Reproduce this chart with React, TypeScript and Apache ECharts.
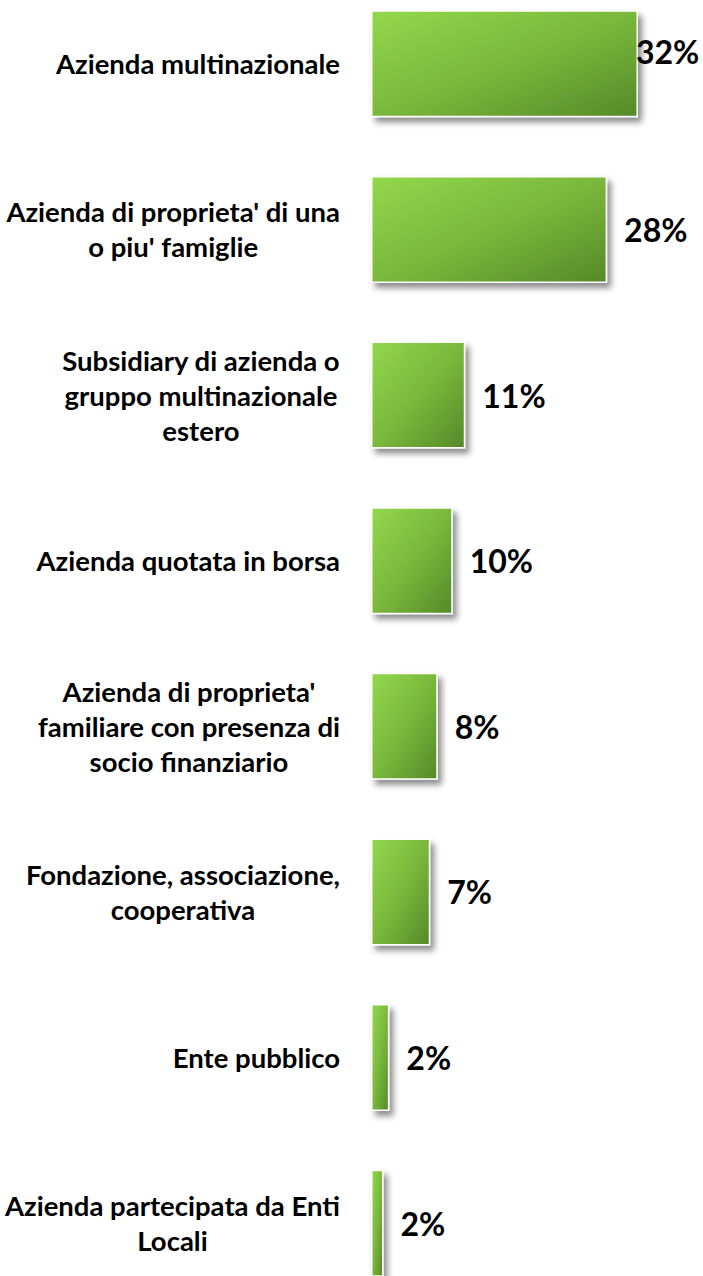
import React, { useEffect, useRef } from "react";
import * as echarts from "echarts";

const categories = [
  "Azienda multinazionale",
  "Azienda di proprieta' di una\no piu' famiglie",
  "Subsidiary di azienda o\ngruppo multinazionale\nestero",
  "Azienda quotata in borsa",
  "Azienda di proprieta'\nfamiliare con presenza di\nsocio finanziario",
  "Fondazione, associazione,\ncooperativa",
  "Ente pubblico",
  "Azienda partecipata da Enti\nLocali",
];
const values = [32.0, 28.3, 11.3, 9.8, 8.0, 7.1, 2.2, 1.5];
const valueLabels = ["32%", "28%", "11%", "10%", "8%", "7%", "2%", "2%"];

const catFont = "'Lato', sans-serif";
const valFont = "'Lato', sans-serif";

export default function App() {
  const ref = useRef<HTMLDivElement>(null);
  useEffect(() => {
    if (!ref.current) return;
    const chart = echarts.init(ref.current, null, { renderer: "svg" });
    const data = values.map((v, i) =>
      i === 0 ? { value: v, label: { offset: [-19, -12] } } : { value: v }
    );
    chart.setOption({
      animation: false,
      backgroundColor: "#ffffff",
      grid: {
        left: 371,
        top: -19,
        width: 317,
        height: 1325,
        containLabel: false,
        outerBoundsMode: "none",
      },
      xAxis: {
        type: "value",
        min: 0,
        max: 38,
        show: false,
      },
      yAxis: {
        type: "category",
        inverse: true,
        data: categories,
        axisLine: { show: false },
        axisTick: { show: false },
        axisLabel: {
          margin: 31,
          formatter: (v: string) =>
            v
              .split("\n")
              .map((l) => `{c|${l}}`)
              .join("\n"),
          rich: {
            c: {
              align: "center",
              fontFamily: catFont,
              fontSize: 27.5,
              fontWeight: "bold",
              color: "#000000",
              lineHeight: 35,
            },
          },
        },
      },
      series: [
        {
          type: "bar",
          data,
          barWidth: 107,
          itemStyle: {
            color: new echarts.graphic.LinearGradient(0, 0, 1, 1, [
              { offset: 0, color: "#92d84c" },
              { offset: 0.5, color: "#7ab83c" },
              { offset: 1, color: "#558a28" },
            ]),
            borderColor: "#ffffff",
            borderWidth: 1.5,
            shadowBlur: 6,
            shadowOffsetX: 4,
            shadowOffsetY: 5,
            shadowColor: "rgba(0,0,0,0.45)",
          },
          label: {
            show: true,
            position: "right",
            distance: 17,
            formatter: (p: any) => valueLabels[p.dataIndex],
            fontFamily: valFont,
            fontSize: 32,
            fontWeight: "bold",
            color: "#000000",
          },
        },
      ],
    });
    return () => chart.dispose();
  }, []);
  return (
    <div
      ref={ref}
      style={{ position: "absolute", left: 0, top: 0, width: 703, height: 1276 }}
    />
  );
}
